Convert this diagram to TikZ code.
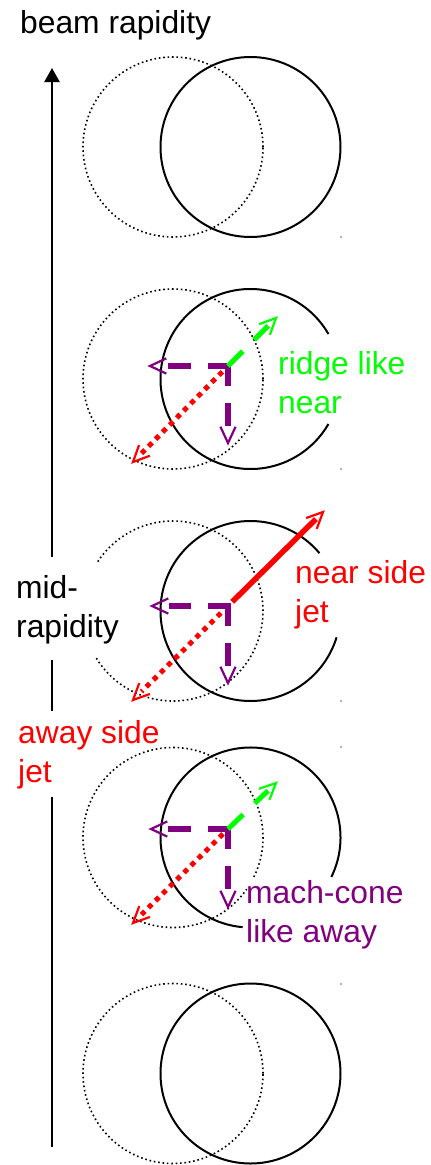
\documentclass[tikz,border=0pt]{standalone}
\usepackage{fontspec}
\setmainfont{Liberation Sans}
\usetikzlibrary{calc,arrows.meta}
\definecolor{jgreen}{HTML}{00FF00}
\definecolor{jpurple}{HTML}{800080}
\definecolor{jred}{HTML}{FF0000}
\tikzset{
  solidring/.style={draw=black, line width=2pt},
  dotring/.style={draw=black, line width=1.6pt, dash pattern=on 1.6pt off 2.8pt},
  axisline/.style={draw=black, line width=2.5pt},
  purpshaft/.style={draw=jpurple, line width=6pt, dash pattern=on 23pt off 17pt},
  greenshaft/.style={draw=jgreen, line width=5pt, dash pattern=on 21pt off 16pt},
  reddots/.style={draw=jred, line width=5pt, dash pattern=on 5pt off 5pt},
  redjet/.style={draw=jred, line width=5.5pt},
  barb/.style={line width=2.2pt, solid, line join=miter},
  lbl/.style={anchor=base west, inner sep=0pt, align=left,
    font=\fontsize{31.8pt}{38.5pt}\selectfont},
  speck/.style={fill=black!60},
}
\newcommand\barbhead[3]{\draw[barb,#1] ($(#3)!18pt!25:(#2)$) -- (#3) -- ($(#3)!18pt!-25:(#2)$);}
\begin{document}
\begin{tikzpicture}[x=1pt,y=1pt]
\useasboundingbox (0,0) rectangle (431,-1165);

% ---------- axis ----------
\coordinate (ax1) at (52,-1147);
\coordinate (ax2) at (52,-797);
\coordinate (ax3) at (52,-711);
\coordinate (ax4) at (52,-660);
\coordinate (ax5) at (52,-557);
\coordinate (axtop) at (52,-68);
\draw[axisline] (ax1) -- (ax2);
\draw[axisline] (ax3) -- (ax4);
\draw[axisline, -{Triangle[length=14pt,width=15pt]}] (ax5) -- (axtop);

% ---------- panel 1 ----------
\coordinate (d1) at (173,-147);
\coordinate (s1) at (250.5,-147);
\draw[dotring] (d1) circle[radius=90];
\draw[solidring] (s1) circle[radius=90];
\fill[speck] (341,-237) circle[radius=0.8];

% ---------- panel 2 ----------
\coordinate (d2) at (173,-379);
\coordinate (s2) at (250.5,-379);
\draw[dotring] (d2) circle[radius=90];
\draw[solidring] ($(s2)+(30:90)$) arc[start angle=30, end angle=330, radius=90];
\fill[speck] (341,-469) circle[radius=0.8];

% ---------- panel 3 ----------
\coordinate (d3) at (173,-611);
\coordinate (s3) at (250.5,-611);
\draw[dotring] ($(d3)+(-148.4:90)$) arc[start angle=-148.4, end angle=148.4, radius=90];
\draw[solidring] ($(s3)+(40:90)$) arc[start angle=40, end angle=343, radius=90];
\fill[speck] (341,-701) circle[radius=0.8];

% ---------- panel 4 ----------
\coordinate (d4) at (173,-837.5);
\coordinate (s4) at (250.5,-837.5);
\draw[dotring] ($(d4)+(-26:90)$) arc[start angle=-26, end angle=325, radius=90];
\draw[solidring] ($(s4)+(-26:90)$) arc[start angle=-26, end angle=265, radius=90];
\fill[speck] (341,-747) circle[radius=0.8];

% ---------- panel 5 ----------
\coordinate (d5) at (173,-1073.5);
\coordinate (s5) at (250.5,-1073.5);
\draw[dotring] (d5) circle[radius=90];
\draw[solidring] (s5) circle[radius=90];
\fill[speck] (341,-984) circle[radius=0.8];

% ---------- arrows, panel 2 ----------
\coordinate (o2) at (228,-366);
\coordinate (l2) at (150,-366);
\coordinate (b2) at (228,-443);
\coordinate (g2) at (276,-318);
\coordinate (r2) at (133,-462);
\draw[purpshaft] ($(o2)+(3,0)$) -- ($(l2)!17pt!(o2)$);
\draw[purpshaft] ($(o2)+(0,3)$) -- ($(b2)!17pt!(o2)$);
\barbhead{jpurple}{o2}{l2}
\barbhead{jpurple}{o2}{b2}
\draw[greenshaft] (o2) -- ($(g2)!11pt!(o2)$);
\barbhead{jgreen}{o2}{g2}
\draw[reddots] ($(o2)!8pt!(r2)$) -- ($(r2)!12pt!(o2)$);
\barbhead{jred}{o2}{r2}

% ---------- arrows, panel 3 ----------
\coordinate (o3) at (228,-606);
\coordinate (l3) at (152,-606);
\coordinate (b3) at (228,-683);
\coordinate (j3) at (323,-512);
\coordinate (r3) at (133,-700);
\draw[purpshaft] ($(o3)+(3,0)$) -- ($(l3)!17pt!(o3)$);
\draw[purpshaft] ($(o3)+(0,3)$) -- ($(b3)!17pt!(o3)$);
\barbhead{jpurple}{o3}{l3}
\barbhead{jpurple}{o3}{b3}
\draw[redjet] ($(o3)!6pt!(j3)$) -- ($(j3)!10pt!(o3)$);
\barbhead{jred}{o3}{j3}
\draw[reddots] ($(o3)!10pt!(r3)$) -- ($(r3)!12pt!(o3)$);
\barbhead{jred}{o3}{r3}

% ---------- arrows, panel 4 ----------
\coordinate (o4) at (228,-829);
\coordinate (l4) at (151,-829);
\coordinate (b4) at (228,-907);
\coordinate (g4) at (276,-783);
\coordinate (r4) at (133,-923);
\draw[purpshaft] ($(o4)+(3,0)$) -- ($(l4)!17pt!(o4)$);
\draw[purpshaft] ($(o4)+(0,3)$) -- ($(b4)!17pt!(o4)$);
\barbhead{jpurple}{o4}{l4}
\barbhead{jpurple}{o4}{b4}
\draw[greenshaft] (o4) -- ($(g4)!11pt!(o4)$);
\barbhead{jgreen}{o4}{g4}
\draw[reddots] ($(o4)!7pt!(r4)$) -- ($(r4)!12pt!(o4)$);
\barbhead{jred}{o4}{r4}

% ---------- labels (anchor = baseline of the last line) ----------
\node[lbl] (title) at (20,-33) {beam rapidity};
\node[lbl, text=jgreen] (ridge) at (278,-413) {ridge like\\near};
\node[lbl, text=jred] (nearjet) at (295,-622) {near side\\jet};
\node[lbl] (mid) at (16,-637) {mid-\\rapidity};
\node[lbl, text=jred] (awayjet) at (18,-782) {away side\\jet};
\node[lbl, text=jpurple] (mach) at (246,-942) {mach-cone\\like away};
\end{tikzpicture}
\end{document}
